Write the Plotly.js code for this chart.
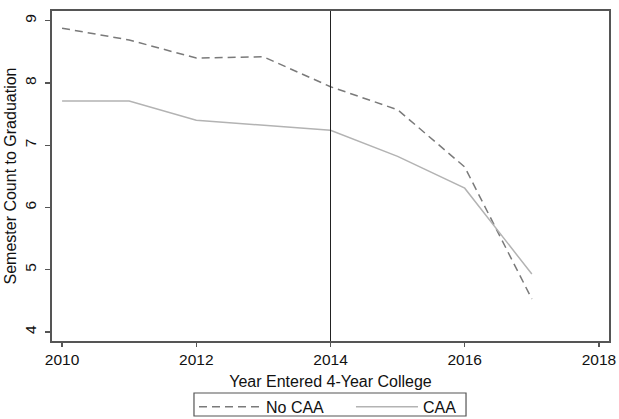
<!DOCTYPE html>
<html>
<head>
<meta charset="utf-8">
<script src="https://cdn.plot.ly/plotly-3.0.1.min.js"></script>
<style>html,body{margin:0;padding:0;background:#fff;}#chart{width:619px;height:419px;}</style>
</head>
<body>
<div id="chart"></div>
<script>
const years = [2010, 2011, 2012, 2013, 2014, 2015, 2016, 2017];
const noCAA = [8.88, 8.69, 8.40, 8.42, 7.94, 7.57, 6.65, 4.53];
const caa = [7.71, 7.71, 7.40, 7.32, 7.24, 6.82, 6.31, 4.93];
const xTicks = [2010, 2012, 2014, 2016, 2018];
const yTicks = [4, 5, 6, 7, 8, 9];
const policyYear = 2014;

const fam = "Liberation Sans, Arial, Helvetica, sans-serif";
const font = {family: fam, size: 16, color: "#111"};
const tickFont = {family: fam, size: 15.5, color: "#111"};

const traces = [
  {x: years, y: noCAA, name: "No CAA", type: "scatter", mode: "lines",
   line: {color: "#7a7a7a", width: 1.5, dash: "8px,5px"}},
  {x: years, y: caa, name: "CAA", type: "scatter", mode: "lines",
   line: {color: "#b3b3b3", width: 1.5}}
];

const axisCommon = {
  showgrid: false, zeroline: false, showline: true, mirror: true,
  linecolor: "#555", linewidth: 1.6, ticks: "outside", tickcolor: "#555",
  tickwidth: 1.2, ticklen: 5, tickfont: tickFont
};

const layout = {
  width: 619, height: 419,
  margin: {l: 52, r: 10, t: 11, b: 78, autoexpand: false},
  paper_bgcolor: "#fff", plot_bgcolor: "#fff",
  font: font,
  showlegend: true,
  xaxis: Object.assign({}, axisCommon, {
    range: [2009.85, 2018.15], tickvals: xTicks, ticktext: xTicks.map(String),
    ticklen: 4,
    title: {text: "Year Entered 4-Year College", font: font, standoff: 8}
  }),
  yaxis: Object.assign({}, axisCommon, {
    range: [3.855, 9.156], tickvals: yTicks, ticktext: yTicks.map(String),
    tickangle: -90, ticklabelstandoff: 3,
    title: {text: "Semester Count to Graduation", font: font, standoff: 1}
  }),
  legend: {
    orientation: "h", x: 0.2549, xanchor: "left", y: -0.148, yanchor: "top",
    bgcolor: "rgba(0,0,0,0)", borderwidth: 0, font: font,
    itemwidth: 62, entrywidth: 80, entrywidthmode: "pixels", traceorder: "normal"
  },
  shapes: [
    {type: "line", xref: "x", yref: "paper", x0: policyYear, x1: policyYear, y0: 0, y1: 1,
     line: {color: "#222", width: 1}},
    {type: "rect", xref: "paper", yref: "paper", x0: 0.2549, x1: 0.7433, y0: -0.2273, y1: -0.1576,
     line: {color: "#555", width: 1.2}, fillcolor: "rgba(0,0,0,0)"}
  ]
};

Plotly.newPlot("chart", traces, layout, {displayModeBar: false, staticPlot: true});
</script>
</body>
</html>
